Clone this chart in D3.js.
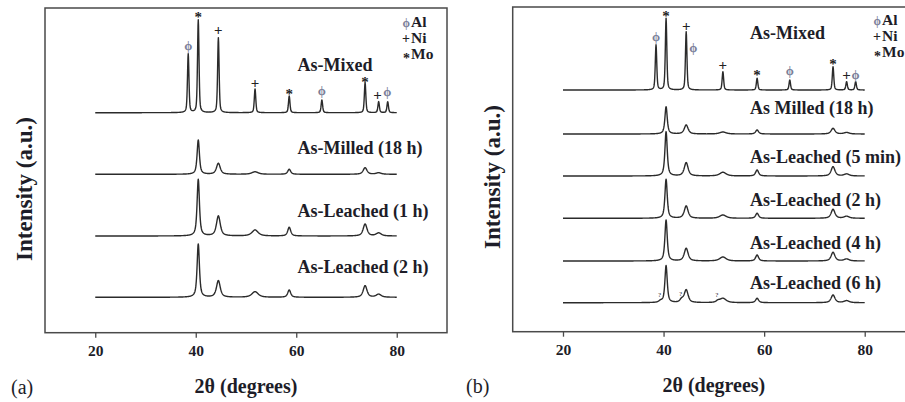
<!DOCTYPE html>
<html>
<head>
<meta charset="utf-8">
<script src="https://cdn.jsdelivr.net/npm/d3@7"></script>
<style>
  body { margin: 0; background: #fff; }
  text { font-family: "Liberation Serif", "Times New Roman", serif; fill: #1d1d28; }
</style>
</head>
<body>
<script>
// peak positions (2theta) and the phase each belongs to
const peakPos = [38.5, 40.5, 44.5, 51.8, 58.6, 65.1, 73.7, 76.4, 78.2];
const mixedWidth = [0.35, 0.35, 0.35, 0.35, 0.35, 0.35, 0.35, 0.35, 0.35];
const milledWidth = [0.8, 0.55, 0.9, 1.5, 0.7, 1.0, 0.9, 1.2, 1.0];

// panel (a)
const leftNames = ['As-Mixed', 'As-Milled (18 h)', 'As-Leached (1 h)', 'As-Leached (2 h)'];
const leftOffsets = [220, 158.4, 96.7, 35.4];
const leftHeights = [
  [58.7, 92.7, 75, 23.7, 16.7, 12.7, 30, 11, 11],
  [0, 34.3, 11, 2.5, 5, 0, 6.6, 1.5, 0],
  [0, 56.7, 20, 6, 8.7, 0, 12, 3, 0],
  [0, 53.3, 16.6, 5.6, 7.3, 0, 11.6, 3, 0]
];
const leftMarkPhase = ['Al', 'Mo', 'Ni', 'Ni', 'Mo', 'Al', 'Mo', 'Ni', 'Al'];
const leftMarkPos = [38.5, 40.5, 44.5, 51.8, 58.6, 65.1, 73.7, 76.2, 78.1];
const leftMarkLevel = [67.7, 99.7, 82.7, 29.7, 22.7, 22.7, 34.7, 17.7, 21.7];

// panel (b)
const rightNames = ['As-Mixed', 'As Milled (18 h)', 'As-Leached (5 min)', 'As-Leached (2 h)', 'As-Leached (4 h)', 'As-Leached (6 h)'];
const rightOffsets = [241.7, 197.7, 155.7, 113.4, 70.7, 29];
const rightHeights = [
  [45, 71.7, 58.3, 18.3, 11.7, 10, 23.3, 8.3, 8.3],
  [0, 27.3, 9, 2, 4, 0, 5.7, 1.5, 0],
  [0, 44.3, 13.3, 3.7, 6, 0, 9.3, 2, 0],
  [0, 39, 12.3, 3.3, 5, 0, 9, 2, 0],
  [0, 41, 12.7, 4, 6, 0, 8.7, 2, 0],
  [0, 37, 12.7, 4.4, 4.4, 0, 7.7, 2, 0]
];
const rightMarkPhase = ['Al', 'Mo', 'Ni', 'Al', 'Ni', 'Mo', 'Al', 'Mo', 'Ni', 'Al'];
const rightMarkPos = [38.5, 40.5, 44.5, 45.9, 51.8, 58.6, 65.1, 73.7, 76.4, 78.2];
const rightMarkLevel = [54, 78.3, 64, 42.7, 25, 19, 19.3, 30, 15, 16];
// unidentified shoulders in the 6 h pattern
const unknownPos = [39.4, 43.6, 50.8];
const unknownHeight = [1.5, 3, 1.5];

const ticks = [20, 40, 60, 80];
const legendPhases = ['Al', 'Ni', 'Mo'];
const glyph = { Al: '\u03d5', Ni: '+', Mo: '*' };

const width = 905, height = 402;
const svg = d3.select('body').append('svg')
  .attr('width', width)
  .attr('height', height);

function pv(x, c, h, w, eta) {
  // pseudo-voigt peak profile
  const d = (x - c) / (w / 2);
  const lor = 1 / (1 + d * d);
  const gau = Math.exp(-Math.LN2 * d * d);
  return h * (eta * lor + (1 - eta) * gau);
}

function pattern(heights, widths, eta, extraPos, extraH) {
  const pts = [];
  for (let i = 0; i <= 1200; i++) {
    const t = 20 + i * 0.05;
    let v = 0;
    heights.forEach((h, j) => { if (h > 0) v += pv(t, peakPos[j], h, widths[j], eta); });
    if (extraPos) extraPos.forEach((p, j) => { v += pv(t, p, extraH[j], 0.8, 0.5); });
    pts.push([t, v]);
  }
  return pts;
}

function drawPanel(cfg) {
  const x = d3.scaleLinear().domain([10, 90]).range([cfg.left, cfg.right]);
  const y = d3.scaleLinear().domain([0, 324.7]).range([cfg.bottom, cfg.top]);
  const g = svg.append('g');

  g.append('rect')
    .attr('x', cfg.left).attr('y', cfg.top)
    .attr('width', cfg.right - cfg.left).attr('height', cfg.bottom - cfg.top)
    .attr('fill', 'none').attr('stroke', '#4a4a4a').attr('stroke-width', 1.5);

  const ax = g.append('g')
    .attr('transform', `translate(0,${cfg.bottom})`)
    .call(d3.axisBottom(x).tickValues(ticks).tickSize(5).tickPadding(7));
  ax.select('.domain').remove();
  ax.selectAll('line').attr('stroke', '#4a4a4a').attr('stroke-width', 1.3);
  ax.selectAll('text')
    .attr('font-size', 15.5).attr('font-weight', 'bold');

  const line = d3.line().x(d => x(d[0])).y(d => y(d[1]));
  cfg.heights.forEach((hs, i) => {
    const widths = i === 0 ? mixedWidth : milledWidth;
    const eta = i === 0 ? 0.45 : 0.7;
    const extra = i === cfg.heights.length - 1 && cfg.extraPos;
    const data = pattern(hs, widths, eta, extra ? cfg.extraPos : null, extra ? cfg.extraH : null)
      .map(d => [d[0], d[1] + cfg.offsets[i]]);
    g.append('path')
      .datum(data)
      .attr('d', line)
      .attr('fill', 'none')
      .attr('stroke', '#2b2b2b')
      .attr('stroke-width', 1.4)
      .attr('stroke-linejoin', 'round');
    g.append('text')
      .attr('x', cfg.labelX)
      .attr('y', cfg.labelY[i] + 6)
      .attr('font-size', 18)
      .attr('font-weight', 'bold')
      .text(cfg.names[i]);
  });

  // phase markers over As-Mixed peaks
  cfg.markPos.forEach((p, i) => {
    const ph = cfg.markPhase[i];
    g.append('text')
      .attr('x', x(p))
      .attr('y', y(cfg.offsets[0] + cfg.markLevel[i]))
      .attr('dy', ph === 'Mo' ? '0.62em' : '0.35em')
      .attr('text-anchor', 'middle')
      .attr('font-size', ph === 'Al' ? 13 : 15)
      .attr('font-weight', 'bold')
      .style('fill', ph === 'Al' ? '#7b7f99' : '#222')
      .text(glyph[ph]);
  });

  if (cfg.extraPos) {
    cfg.extraPos.forEach((p, i) => {
      g.append('text')
        .attr('x', x(p) - 1)
        .attr('y', y(cfg.offsets[cfg.offsets.length - 1] + cfg.extraH[i] + 4))
        .attr('text-anchor', 'middle')
        .attr('font-size', 7)
        .text('?');
    });
  }

  // legend
  legendPhases.forEach((ph, i) => {
    const ly = cfg.legendY + i * cfg.legendStep;
    g.append('text')
      .attr('x', cfg.legendX - 1)
      .attr('y', ly + (ph === 'Mo' ? 9 : 5))
      .attr('text-anchor', 'end')
      .attr('font-size', ph === 'Al' ? 12 : 14)
      .attr('font-weight', 'bold')
      .style('fill', ph === 'Al' ? '#7b7f99' : '#222')
      .text(glyph[ph]);
    g.append('text')
      .attr('x', cfg.legendX)
      .attr('y', ly + 5)
      .attr('font-size', 15.5)
      .attr('font-weight', 'bold')
      .text(ph);
  });

  g.append('text')
    .attr('x', x(50))
    .attr('y', cfg.bottom + 60)
    .attr('text-anchor', 'middle')
    .attr('font-size', 20)
    .attr('font-weight', 'bold')
    .text('2\u03b8 (degrees)');

  g.append('text')
    .attr('transform', `translate(${cfg.left - 13},${cfg.ylabY}) rotate(-90)`)
    .attr('text-anchor', 'middle')
    .attr('font-size', 23)
    .attr('font-weight', 'bold')
    .text('Intensity (a.u.)');

  g.append('text')
    .attr('x', cfg.tagX)
    .attr('y', cfg.bottom + 61)
    .attr('font-size', 20)
    .text(cfg.tag);
}

drawPanel({
  left: 45, right: 447, top: 8, bottom: 332.7,
  names: leftNames, offsets: leftOffsets, heights: leftHeights,
  markPhase: leftMarkPhase, markPos: leftMarkPos, markLevel: leftMarkLevel,
  labelX: 297.5, labelY: [65, 148.3, 210.7, 266.7],
  legendX: 411, legendY: 22, legendStep: 16,
  ylabY: 189, tagX: 11, tag: '(a)'
});

drawPanel({
  left: 512.7, right: 915, top: 7, bottom: 331.7,
  names: rightNames, offsets: rightOffsets, heights: rightHeights,
  markPhase: rightMarkPhase, markPos: rightMarkPos, markLevel: rightMarkLevel,
  extraPos: unknownPos, extraH: unknownHeight,
  labelX: 750, labelY: [33.3, 108.3, 157.3, 200, 243.3, 283.3],
  legendX: 882, legendY: 20, legendStep: 16,
  ylabY: 177, tagX: 466, tag: '(b)'
});
</script>
</body>
</html>
